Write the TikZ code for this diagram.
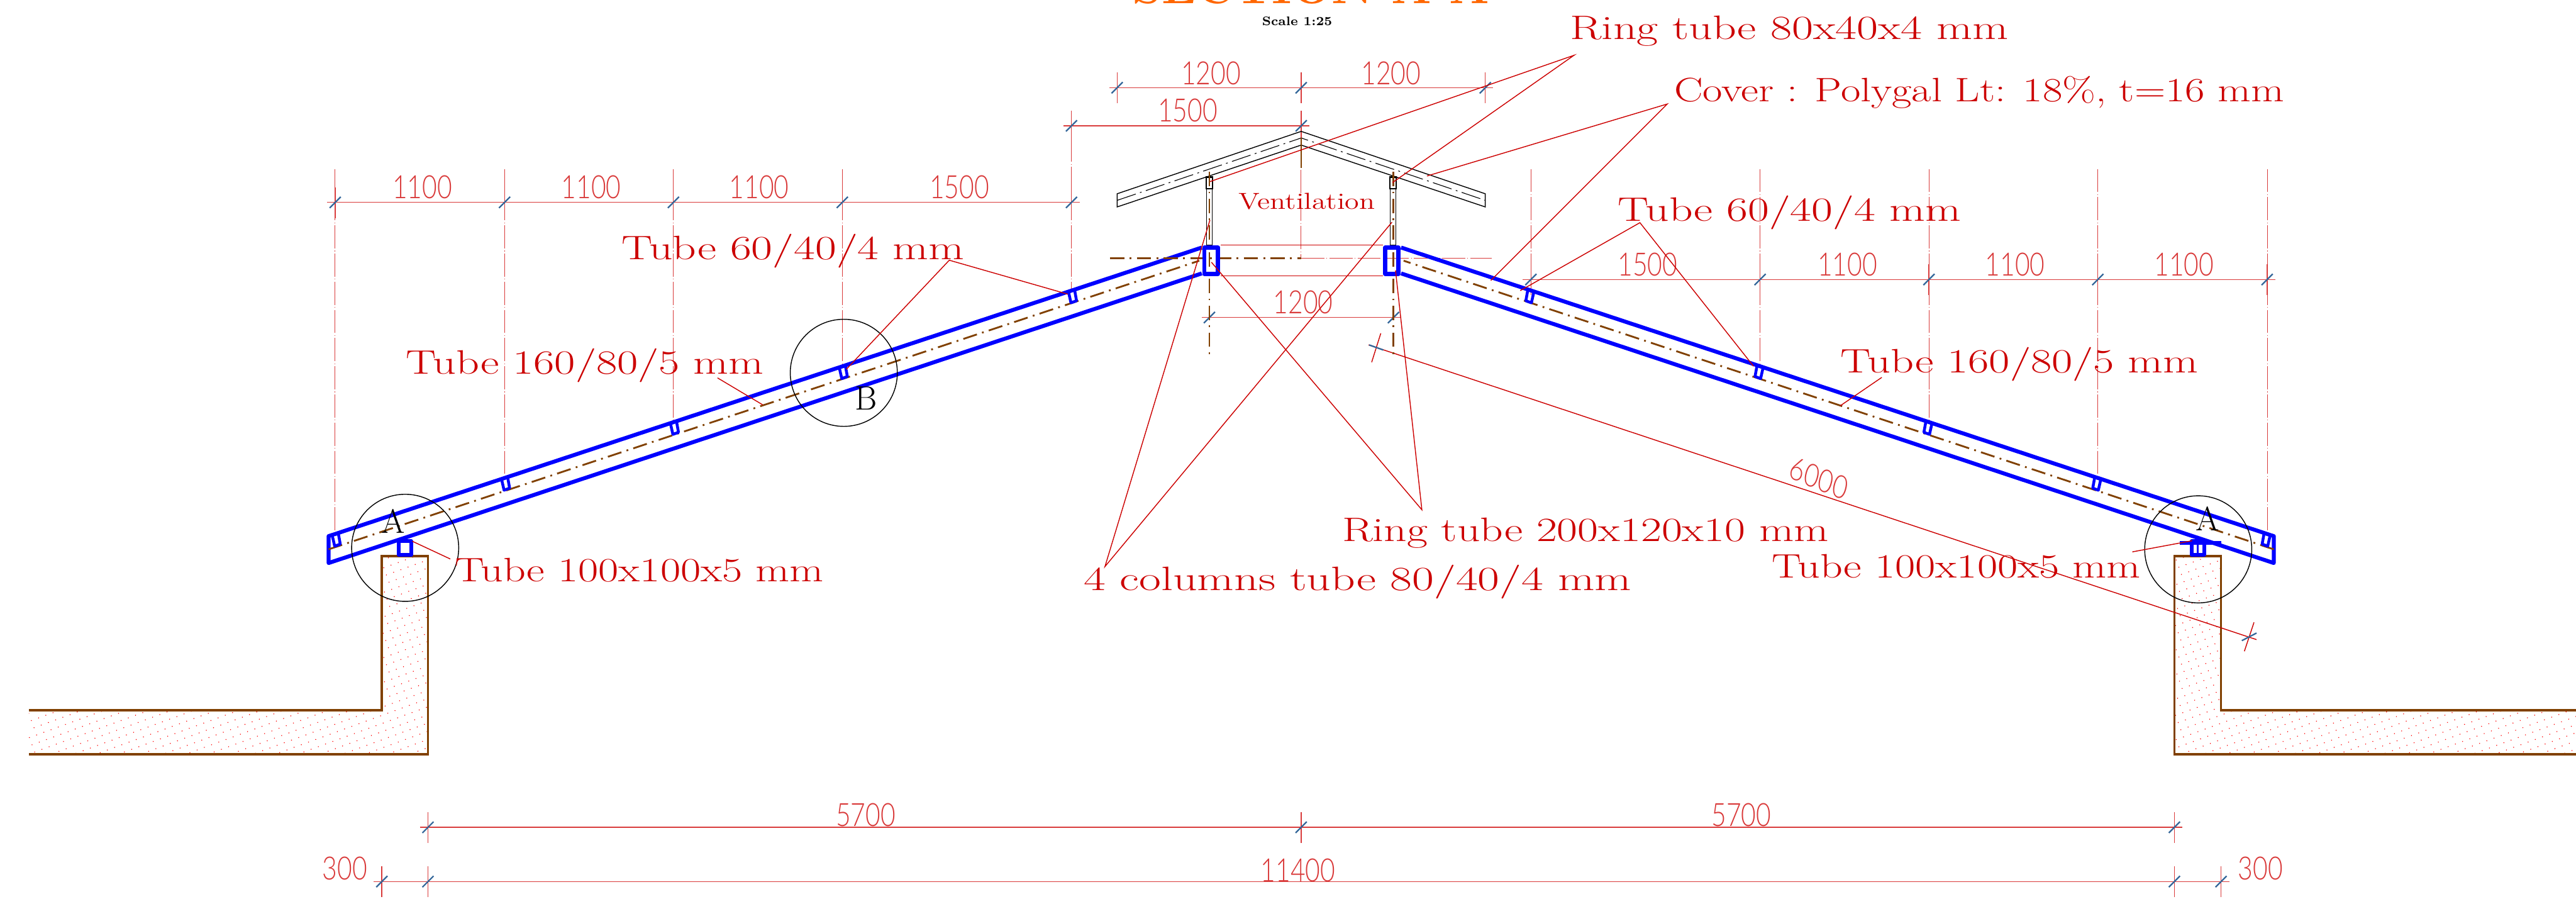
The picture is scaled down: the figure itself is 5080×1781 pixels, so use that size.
\documentclass[tikz,border=0pt]{standalone}
\usepackage{fontspec}
\usetikzlibrary{patterns.meta}
\newfontfamily\dimfont{Lato Light}

\definecolor{tubeblue}{HTML}{0000FF}
\definecolor{wallbrown}{HTML}{804000}
\definecolor{leadred}{HTML}{CC0000}
\definecolor{dimred}{HTML}{D93A3A}
\definecolor{slashblue}{HTML}{336699}
\definecolor{titleorange}{HTML}{FF6600}

\tikzset{
    tubeline/.style={draw=tubeblue, line width=2.2pt, line join=round},
    wallline/.style={draw=wallbrown, line width=1.3pt},
    centreline/.style={draw=wallbrown, line width=1pt, dash pattern=on 8pt off 3pt on 1pt off 3pt},
    extline/.style={draw=dimred, line width=.35pt, dash pattern=on 13pt off 1.2pt on .4pt off 1.2pt},
    dimline/.style={draw=dimred, line width=.5pt},
    leadline/.style={draw=leadred, line width=.5pt},
    slashline/.style={draw=slashblue, line width=.8pt},
    dottedfill/.style={pattern={Dots[distance=4.3pt, radius=.3pt, angle=20]}, pattern color=red},
    dimtext/.style={text=dimred, font=\dimfont\fontsize{18}{18}\selectfont, inner sep=0pt, transform shape, xscale=.8},
    tubetext/.style={text=leadred, font=\fontsize{19}{19}\selectfont, inner sep=0pt, anchor=base west, transform shape, xscale=1.32},
    marktext/.style={text=black, font=\fontsize{19}{19}\selectfont, inner sep=0pt},
    detailcircle/.style={draw, circle, line width=.5pt, minimum size=2.11cm, inner sep=0pt},
}

\newcommand{\dimtick}[2]{
    \draw[dimline] (#1,{#2-30}) -- (#1,{#2+31});
    \draw[slashline] ({#1-11},{#2+11}) -- ({#1+11},{#2-11});
}

\begin{document}
\begin{tikzpicture}[x=0.01cm, y=-0.01cm]
    \useasboundingbox (0,0) rectangle (5080,1781);

    % ground and walls
    \fill[dottedfill] (57,1400) -- (753,1400) -- (753,1096) -- (844,1096) -- (844,1487) -- (57,1487) -- cycle;
    \fill[dottedfill] (5080,1400) -- (4380,1400) -- (4380,1096) -- (4288,1096) -- (4288,1487) -- (5080,1487) -- cycle;
    \draw[wallline] (57,1400) -- (753,1400) -- (753,1096) -- (844,1096) -- (844,1487) -- (57,1487);
    \draw[wallline] (5080,1400) -- (4380,1400) -- (4380,1096) -- (4288,1096) -- (4288,1487) -- (5080,1487);

    % extension lines down to the rafters
    \foreach \px/\py in {661/1052, 995/942, 1328/832, 1661/722, 2113/572, 3019/572, 3471/722, 3804/832, 4137/942, 4471/1052} {
        \draw[extline] (\px,333) -- (\px,\py);
    }
    \draw[extline] (2566,279) -- (2566,509);
    \draw[extline] (2113,218) -- (2113,333);
    \draw[extline] (2566,509) -- (2942,509);

    % dimension chains
    \draw[dimline] (645,399) -- (2129,399); % left chain
    \foreach \px in {661,995,1328,1661,2113} {\dimtick{\px}{399}}
    \draw[dimline] (3003,551) -- (4487,551); % right chain
    \foreach \px in {3019,3471,3804,4137,4471} {\dimtick{\px}{551}}
    \draw[dimline] (2188,173) -- (2944,173); % top 1200s
    \foreach \px in {2203,2566,2929} {\dimtick{\px}{173}}
    \draw[dimline] (2097,248) -- (2582,248); % top 1500
    \foreach \px in {2113,2566} {\dimtick{\px}{248}}
    \draw[dimline] (2370,626) -- (2763,626); % between columns
    \draw[slashline] (2374,637) -- (2396,615);
    \draw[slashline] (2737,637) -- (2759,615);
    \draw[dimline] (828,1631) -- (4304,1631); % 5700s
    \foreach \px in {844,2566,4288} {\dimtick{\px}{1631}}
    \draw[dimline] (737,1738) -- (4396,1738); % 11400
    \foreach \px in {753,844,4288,4380} {\dimtick{\px}{1738}}

    % sloped 6000 dimension
    \draw[dimline, draw=leadred] (2699,680) -- (4450,1261);
    \draw[leadline] (2723,657) -- (2705,714);
    \draw[leadline] (4445,1227) -- (4426,1284);
    \draw[slashline] (2700,680) -- (2728,690);
    \draw[slashline] (4421,1263) -- (4450,1248);

    % ventilated cover at the ridge
    \draw[black, line width=.5pt] (2203,382) -- (2566,259) -- (2929,382) -- (2929,408) -- (2566,286) -- (2203,408) -- cycle;
    \draw[black, line width=.4pt, dash pattern=on 11pt off 2.5pt on 1pt off 2.5pt] (2203,395) -- (2566,272) -- (2929,395);
    \draw[wallbrown, line width=1pt] (2566,271) -- (2566,303);
    \draw[centreline] (2566,303) -- (2566,335);

    % columns under the cover
    \foreach \px in {2379,2741} {
        \draw[black, line width=.4pt] (\px,372) rectangle ({\px+12},483);
        \draw[black, line width=.8pt] (\px,349) rectangle ({\px+12},372);
    }
    \draw[centreline] (2385,339) -- (2385,700);
    \draw[centreline] (2748,339) -- (2748,700);

    % rafters
    \draw[tubeline] (2370,488) -- (648,1057) -- (648,1110) -- (2370,539);
    \draw[tubeline] (2763,488) -- (4484,1057) -- (4484,1110) -- (2763,539);
    \draw[centreline] (648,1083) -- (2365,514);
    \draw[centreline] (4484,1083) -- (2768,514);
    \draw[wallbrown, line width=1.3pt, dash pattern=on 8pt off 3pt on 1pt off 3pt] (2189,509) -- (2566,509);

    % ring tubes and the lines between them
    \draw[tubeline, line width=2.4pt] (2375,488) rectangle (2402,540);
    \draw[tubeline, line width=2.4pt] (2732,488) rectangle (2758,540);
    \draw[leadline] (2407,483) -- (2727,483);
    \draw[leadline] (2407,544) -- (2727,544);

    % purlins on the rafters
    \foreach \px in {661,995,1328,1661,2113} {
        \pgfmathsetmacro{\py}{1057-(\px-648)*0.3304}
        \pgfmathsetmacro{\qx}{5132-\px}
        \draw[tubeline, line width=1.6pt] ({\px-6},{\py+2}) -- ({\px+6},{\py-2}) -- ({\px+10},{\py+20}) -- ({\px-1},{\py+24}) -- cycle;
        \draw[tubeline, line width=1.6pt] ({\qx+6},{\py+2}) -- ({\qx-6},{\py-2}) -- ({\qx-10},{\py+20}) -- ({\qx+1},{\py+24}) -- cycle;
    }

    % seat tubes on the walls
    \draw[tubeline] (786,1067) rectangle (811,1094);
    \draw[tubeline] (4322,1067) rectangle (4347,1094);
    \draw[tubeline, line width=1pt] (4334,1067) -- (4334,1094);
    \draw[tubeline] (4298,1070) -- (4381,1070);

    % detail circles
    \node[detailcircle] (circA) at (799,1080) {};
    \node[detailcircle] (circB) at (1664,735) {};
    \node[detailcircle] (circC) at (4335,1083) {};
    \node[marktext] (markA) at (775,1028) {A};
    \node[marktext] (markB) at (1708,785) {B};
    \node[marktext] (markC) at (4354,1023) {A};

    % title and scale
    \node[text=titleorange, font=\bfseries\fontsize{26.5}{27}\selectfont, inner sep=0pt, anchor=base] (title) at (2585,7) {SECTION A-A};
    \node[text=black, font=\bfseries\fontsize{7}{7}\selectfont, inner sep=0pt, anchor=base] (scaletxt) at (2558,50) {Scale 1:25};
    \node[text=leadred, font=\fontsize{13}{13}\selectfont, inner sep=0pt, anchor=base west, transform shape, xscale=1.25] (vent) at (2442,412) {Ventilation};

    % dimension values
    \foreach \px/\py/\val/\nm in {833/369/1100/da, 1166/369/1100/db, 1497/369/1100/dc, 1892/369/1500/dd,
        3249/522/1500/de, 3643/522/1100/df, 3974/522/1100/dg, 4307/522/1100/dh,
        2388/145/1200/di, 2743/145/1200/dj, 2342/218/1500/dk, 2570/596/1200/dl,
        1707/1607/5700/dm, 3434/1607/5700/dn, 2560/1716/11400/do, 680/1712/300/dp, 4458/1712/300/dq} {
        \node[dimtext] (\nm) at (\px,\py) {\val};
    }
    \node[dimtext, rotate=-18.4] (dslope) at (3587,943) {6000};

    % tube labels
    \node[tubetext, xscale=1.04] (ringsmall) at (3095,78) {Ring tube 80x40x4 mm};
    \node[tubetext, xscale=.96] (cover) at (3301,200) {Cover : Polygal Lt: 18\%, t=16 mm};
    \node[tubetext, xscale=1.035] (purlinL) at (1225,511) {Tube 60/40/4 mm};
    \node[tubetext, xscale=1.035] (purlinR) at (3190,436) {Tube 60/40/4 mm};
    \node[tubetext, xscale=1.017] (rafterL) at (800,737) {Tube 160/80/5 mm};
    \node[tubetext, xscale=1.017] (rafterR) at (3629,735) {Tube 160/80/5 mm};
    \node[tubetext, xscale=.985] (seatL) at (896,1146) {Tube 100x100x5 mm};
    \node[tubetext, xscale=.985] (seatR) at (3493,1139) {Tube 100x100x5 mm};
    \node[tubetext, xscale=1.007] (ringbig) at (2646,1067) {Ring tube 200x120x10 mm};
    \node[tubetext, xscale=1.065] (columns) at (2136,1164) {4 columns tube 80/40/4 mm};

    % leader junctions
    \coordinate (ringsmallj) at (3104,109);
    \coordinate (coverj) at (3288,205);
    \coordinate (purlinLj) at (1872,513);
    \coordinate (purlinRj) at (3234,439);
    \coordinate (ringbigj) at (2804,1005);
    \coordinate (columnsj) at (2179,1117);

    % leaders
    \draw[leadline] (2386,358) -- (ringsmallj) -- (2746,360);
    \draw[leadline] (2814,347) -- (coverj) -- (2940,553);
    \draw[leadline] (1669,728) -- (purlinLj) -- (2106,580);
    \draw[leadline] (2998,573) -- (purlinRj) -- (3458,722);
    \draw[leadline] (2389,517) -- (ringbigj) -- (2752,533);
    \draw[leadline] (2386,434) -- (columnsj) -- (2745,438);
    \draw[leadline] (1415,745) -- (1504,798);
    \draw[leadline] (3711,744) -- (3629,800);
    \draw[leadline] (813,1067) -- (888,1102);
    \draw[leadline] (4323,1066) -- (4205,1088);
\end{tikzpicture}
\end{document}
